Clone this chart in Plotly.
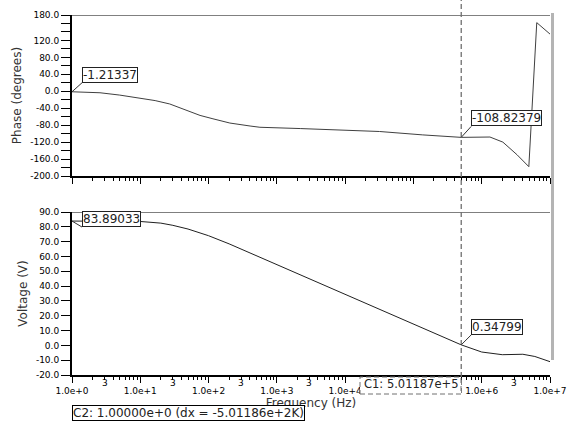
import math
import plotly.graph_objects as go

# ---- data ----
phase_freq = [1, 2.57, 5, 10, 16.5, 27, 45, 75, 116, 205, 405, 565, 2200, 11700, 32000,
              137000, 380000, 501187, 1320000, 2040000, 3300000, 4900000, 6400000, 10000000]
phase_deg = [-1.21337, -3.5, -9, -16, -22, -30, -44, -57, -65, -75, -82, -85, -88, -92, -95,
             -103, -108, -108.82379, -108, -120, -150, -178, 162, 135]

volt_freq = [1, 3, 10, 20, 30, 50, 100, 200, 1000, 10000, 100000, 501187,
             1000000, 2000000, 4000000, 6000000, 10000000]
volt_val = [83.89033, 83.9, 83.6, 82.5, 81, 78.5, 74, 68.5, 54.5, 34.5, 14.3, 0.34799,
            -4.5, -6.3, -6, -7.5, -11]

x_major = [1, 10, 100, 1000, 10000, 100000, 1000000, 10000000]
# the 1.0e+5 label is hidden behind the C1 cursor box in the reference
x_major_text = ["1.0e+0", "1.0e+1", "1.0e+2", "1.0e+3", "1.0e+4", "", "1.0e+6", "1.0e+7"]
x_three = [3, 30, 300, 3000, 3000000]
x_minor = [m * 10 ** d for d in range(7) for m in range(2, 10)]

phase_ticks = list(range(-200, 181, 20))
phase_labeled = [180, 120, 80, 40, 0, -40, -80, -120, -160, -200]
phase_text = [f"{v:.1f}" if v in phase_labeled else "" for v in phase_ticks]
volt_ticks = list(range(-20, 91, 10))
volt_text = [f"{v:.1f}" for v in volt_ticks]

cursor1 = 501187
cursor2 = 1.0

W, H = 568, 423
FONT = "DejaVu Sans"

def px(x):
    return x / W

def py(y):
    return 1 - y / H

fig = go.Figure()
fig.add_trace(go.Scatter(x=phase_freq, y=phase_deg, mode="lines",
                         line=dict(color="#404040", width=1), xaxis="x", yaxis="y",
                         showlegend=False, hoverinfo="skip"))
fig.add_trace(go.Scatter(x=volt_freq, y=volt_val, mode="lines",
                         line=dict(color="#202020", width=1), xaxis="x2", yaxis="y2",
                         showlegend=False, hoverinfo="skip"))

xdom = [px(72), px(550)]
common_x = dict(type="log", range=[0, 7], domain=xdom, showgrid=False, zeroline=False,
                automargin=False,
                showline=True, linecolor="black", linewidth=2, ticks="outside",
                ticklen=6, tickwidth=1, tickcolor="black",
                tickvals=x_major,
                minor=dict(tickvals=x_minor, ticks="outside", ticklen=3, tickcolor="black"),
                tickfont=dict(family=FONT, size=9, color="black"))

fig.update_layout(
    width=W, height=H, margin=dict(l=0, r=0, t=0, b=0),
    paper_bgcolor="white", plot_bgcolor="white",
    xaxis=dict(common_x, anchor="y", ticktext=[""] * len(x_major)),
    yaxis=dict(domain=[py(176), py(15)], range=[-200, 180], anchor="x", automargin=False,
               showgrid=False, zeroline=False, showline=True, linecolor="black", linewidth=2,
               ticks="outside", ticklen=9, tickcolor="black", tickvals=phase_ticks,
               ticktext=phase_text, tickfont=dict(family=FONT, size=9, color="black"),
               title=dict(text="Phase (degrees)", font=dict(family=FONT, size=12, color="#333"),
                          standoff=6)),
    xaxis2=dict(common_x, anchor="y2", ticktext=x_major_text,
                title=dict(text="Frequency (Hz)", font=dict(family=FONT, size=12, color="#333"),
                           standoff=4)),
    yaxis2=dict(domain=[py(375), py(212)], range=[-20, 90], anchor="x2", automargin=False,
                showgrid=False, zeroline=False, showline=True, linecolor="black", linewidth=2,
                ticks="outside", ticklen=9, tickcolor="black", tickvals=volt_ticks,
                ticktext=volt_text, tickfont=dict(family=FONT, size=9, color="black"),
                title=dict(text="Voltage (V)", font=dict(family=FONT, size=12, color="#333"),
                           standoff=6)),
)

# "3" minor tick labels (annotation x on log axes is given in log10 units)
for f in x_three:
    fig.add_annotation(x=math.log10(f), y=py(383), xref="x2", yref="paper", text="3",
                       showarrow=False, font=dict(family=FONT, size=9, color="black"),
                       xanchor="center", yanchor="middle")

# panel borders
fig.add_shape(type="line", xref="paper", yref="y", x0=px(72), x1=px(550), y0=180, y1=180,
              line=dict(color="#808080", width=2))
fig.add_shape(type="line", xref="paper", yref="y2", x0=px(72), x1=px(550), y0=90, y1=90,
              line=dict(color="black", width=1))
# right gray bar
fig.add_shape(type="rect", xref="paper", yref="paper", x0=px(551), x1=px(554),
              y0=py(360), y1=py(13), line=dict(width=0), fillcolor="#b4b4b4")
# cursor line
fig.add_shape(type="line", xref="x2", yref="paper", x0=cursor1, x1=cursor1,
              y0=py(393), y1=py(0), line=dict(color="#707070", width=1.3, dash="5px,3px"))

# C1 box
fig.add_shape(type="rect", xref="paper", yref="paper", x0=px(360), x1=px(461),
              y0=py(394), y1=py(377), fillcolor="white",
              line=dict(color="#707070", width=1, dash="5px,3px"), layer="above")
fig.add_annotation(xref="paper", yref="paper", x=px(362), y=py(384), xanchor="left",
                   yanchor="middle", text="C1: 5.01187e+5", showarrow=False,
                   font=dict(family=FONT, size=11.5, color="#222"))
# C2 box
fig.add_annotation(xref="paper", yref="paper", x=px(72), y=py(421), xanchor="left",
                   yanchor="bottom", text="C2: 1.00000e+0 (dx = -5.01186e+2K)", showarrow=False,
                   font=dict(family=FONT, size=12, color="#222"), bordercolor="black",
                   borderwidth=1, borderpad=0, bgcolor="white")

# value markers
def marker(x, y, xr, yr, txt, ax, ay):
    fig.add_annotation(x=math.log10(x), y=y, xref=xr, yref=yr, text=txt, showarrow=True,
                       arrowhead=0, arrowwidth=1, arrowcolor="#333", ax=ax, ay=ay,
                       xanchor="left", yanchor="bottom",
                       font=dict(family=FONT, size=12, color="#222"),
                       bordercolor="#222", borderwidth=1, borderpad=0, bgcolor="white")

marker(cursor2, phase_deg[0], "x", "y", "-1.21337", 10, -9)
marker(cursor1, phase_deg[17], "x", "y", "-108.82379", 10, -11)
marker(cursor2, volt_val[0], "x2", "y2", "83.89033", 10, 6)
marker(cursor1, volt_val[11], "x2", "y2", "0.34799", 10, -10)

fig.write_html("out.html", config={"displayModeBar": False},
               post_script="document.body.style.margin='0';document.body.style.overflow='hidden';")
